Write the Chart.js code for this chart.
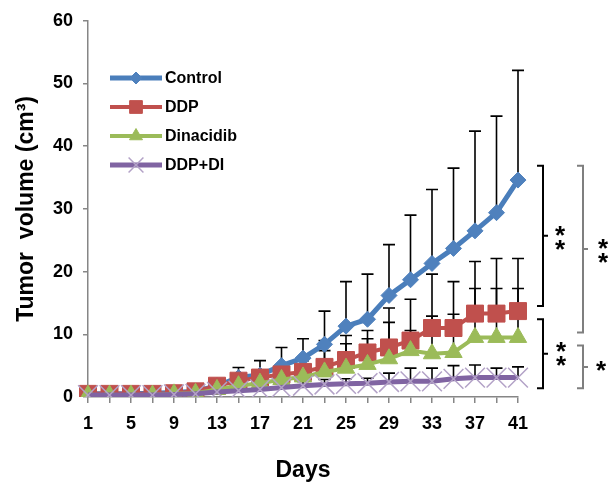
<!DOCTYPE html>
<html>
<head>
<meta charset="utf-8">
<script src="https://cdn.jsdelivr.net/npm/chart.js@4.4.0/dist/chart.umd.min.js"></script>
<style>
  html, body { margin: 0; padding: 0; background: #fff; }
  #wrap { width: 611px; height: 486px; }
</style>
</head>
<body>
<div id="wrap"><canvas id="myChart" width="611" height="486"></canvas></div>
<script>
// days of measurement
const days = ['1','3','5','7','9','11','13','15','17','19','21','23','25','27','29','31','33','35','37','39','41'];

// mean tumor volume per group
const control  = [0.5,0.5,0.5,0.6,0.7,0.9,1.8,3.1,3.5,5.0,6.2,8.4,11.3,12.4,16.2,18.7,21.3,23.7,26.5,29.4,34.6];
const ddp      = [0.5,0.5,0.5,0.5,0.6,0.9,1.8,2.6,3.1,3.6,4.0,4.8,5.9,7.1,7.9,9.0,11.0,11.0,13.3,13.3,13.7];
const dinacidib= [0.3,0.3,0.3,0.3,0.5,0.6,1.2,1.8,2.2,2.8,3.2,4.0,4.6,5.2,6.1,7.4,6.9,7.1,9.5,9.5,9.5];
const ddpDi    = [0.3,0.3,0.3,0.3,0.4,0.5,0.8,1.0,1.2,1.5,1.8,2.0,2.1,2.2,2.4,2.5,2.5,2.9,3.1,3.1,3.1];

// upper error bars (SD)
const controlErr = [0.2,0.2,0.2,0.3,0.3,0.4,0.8,1.6,2.3,2.9,3.1,5.3,7.1,7.2,8.1,10.3,11.8,12.8,15.9,15.4,17.5];
const ddpErr     = [0.2,0.2,0.2,0.2,0.3,0.4,0.6,0.9,1.2,1.5,1.8,4.2,3.9,3.5,6.3,6.6,8.6,7.4,8.3,8.8,8.4];
const dinacidibErr=[0.1,0.1,0.1,0.1,0.2,0.3,0.5,0.8,1.0,1.3,1.6,3.4,3.9,4.1,5.8,3.2,6.0,6.1,7.8,7.8,7.8];
const ddpDiErr   = [0.1,0.1,0.1,0.1,0.1,0.2,0.3,0.4,0.5,0.6,0.7,0.8,0.8,0.8,1.4,2.1,2.1,2.1,2.0,1.5,1.7];

const FONT = 'Arial, "Liberation Sans", sans-serif';
const axisGrey = '#868686';

// error bars drawn behind the lines
const errorBars = {
  id: 'errorBars',
  beforeDatasetsDraw(chart) {
    const ctx = chart.ctx;
    const xs = chart.scales.x, ys = chart.scales.y;
    ctx.save();
    ctx.strokeStyle = '#000';
    ctx.lineWidth = 1.6;
    chart.data.datasets.forEach(ds => {
      ds.err.forEach((e, i) => {
        const x = xs.getPixelForValue(i);
        const y0 = ys.getPixelForValue(ds.data[i]);
        const y1 = ys.getPixelForValue(ds.data[i] + e);
        ctx.beginPath();
        ctx.moveTo(x, y0); ctx.lineTo(x, y1);
        ctx.moveTo(x - 6, y1); ctx.lineTo(x + 6, y1);
        ctx.stroke();
      });
    });
    ctx.restore();
  }
};

// legend inside the plot, top left
const innerLegend = {
  id: 'innerLegend',
  afterDraw(chart) {
    const ctx = chart.ctx;
    const rows = [78, 107, 136, 165];
    ctx.save();
    chart.data.datasets.forEach((ds, i) => {
      const y = rows[i];
      ctx.strokeStyle = ds.borderColor;
      ctx.lineWidth = ds.borderWidth;
      ctx.beginPath();
      ctx.moveTo(110, y); ctx.lineTo(162, y);
      ctx.stroke();
      ctx.fillStyle = ds.pointBackgroundColor;
      ctx.strokeStyle = ds.pointBorderColor;
      ctx.lineWidth = ds.pointBorderWidth;
      Chart.helpers.drawPoint(ctx, {pointStyle: ds.pointStyle, radius: ds.pointRadius * 0.75, rotation: 0, borderWidth: ds.pointBorderWidth}, 136, y);
      ctx.fillStyle = '#000';
      ctx.font = 'bold 16px ' + FONT;
      ctx.textBaseline = 'middle';
      ctx.fillText(ds.label, 165, y + 1);
    });
    ctx.restore();
  }
};

// significance brackets on the right
const sigBrackets = {
  id: 'sigBrackets',
  afterDraw(chart) {
    const ctx = chart.ctx;
    const ys = chart.scales.y;
    const brackets = [
      {x: 543, from: 36.9, to: 14.5, color: '#000', stars: 2, tx: 560, dy: 0},
      {x: 583, from: 36.9, to: 10.3, color: '#7f7f7f', stars: 2, tx: 603, dy: 0},
      {x: 543, from: 12.4, to: 1.4, color: '#000', stars: 2, tx: 561, dy: -2},
      {x: 583, from: 8.2, to: 1.4, color: '#7f7f7f', stars: 1, tx: 601, dy: -3}
    ];
    const size = 26;
    ctx.save();
    brackets.forEach(b => {
      const y0 = ys.getPixelForValue(b.from);
      const y1 = ys.getPixelForValue(b.to);
      const ym = (y0 + y1) / 2;
      ctx.strokeStyle = b.color;
      ctx.lineWidth = 2;
      ctx.beginPath();
      ctx.moveTo(b.x - 6, y0); ctx.lineTo(b.x, y0); ctx.lineTo(b.x, y1); ctx.lineTo(b.x - 6, y1);
      ctx.moveTo(b.x, ym); ctx.lineTo(b.x + 5, ym);
      ctx.stroke();
      ctx.fillStyle = '#000';
      ctx.font = 'bold ' + size + 'px ' + FONT;
      ctx.textAlign = 'center';
      ctx.textBaseline = 'alphabetic';
      for (let k = 0; k < b.stars; k++) {
        const cy = ym + b.dy + (k - (b.stars - 1) / 2) * 14;
        ctx.fillText('*', b.tx, cy + size * 0.58);
      }
    });
    ctx.restore();
  }
};

const ctx = document.getElementById('myChart').getContext('2d');
const myChart = new Chart(ctx, {
  type: 'line',
  data: {
    labels: days,
    datasets: [
      {
        label: 'Control', data: control, err: controlErr, order: 4,
        borderColor: '#4A7EBB', borderWidth: 5,
        pointStyle: 'rectRot', pointRadius: 8,
        pointBackgroundColor: '#4F81BD', pointBorderColor: '#4F81BD', pointBorderWidth: 1
      },
      {
        label: 'DDP', data: ddp, err: ddpErr, order: 3,
        borderColor: '#C0504D', borderWidth: 4,
        pointStyle: 'rect', pointRadius: 12,
        pointBackgroundColor: '#C0504D', pointBorderColor: '#C0504D', pointBorderWidth: 1
      },
      {
        label: 'Dinacidib', data: dinacidib, err: dinacidibErr, order: 2,
        borderColor: '#9BBB59', borderWidth: 4,
        pointStyle: 'triangle', pointRadius: 10,
        pointBackgroundColor: '#9BBB59', pointBorderColor: '#9BBB59', pointBorderWidth: 1
      },
      {
        label: 'DDP+DI', data: ddpDi, err: ddpDiErr, order: 1,
        borderColor: '#8064A2', borderWidth: 5,
        pointStyle: 'crossRot', pointRadius: 14,
        pointBackgroundColor: '#B3A2C7', pointBorderColor: '#B3A2C7', pointBorderWidth: 1.5
      }
    ]
  },
  options: {
    responsive: false,
    animation: false,
    layout: { padding: { left: 0, right: 93, top: 16, bottom: 0 } },
    plugins: { legend: { display: false }, tooltip: { enabled: false } },
    elements: { line: { tension: 0 } },
    scales: {
      x: {
        type: 'category',
        offset: false,
        grid: { drawOnChartArea: false, drawTicks: true, tickLength: 6, color: axisGrey, lineWidth: 1.5 },
        border: { color: axisGrey, width: 1.5 },
        ticks: {
          autoSkip: false, maxRotation: 0, padding: 10, color: '#000',
          font: { family: FONT, size: 18, weight: 'bold' },
          callback: function (v, i) { return i % 2 === 0 ? this.getLabelForValue(v) : ''; }
        },
        title: { display: true, text: 'Days', color: '#000', font: { family: FONT, size: 23, weight: 'bold' }, padding: { top: 0, bottom: 2 } },
        afterFit(s) { s.height = 89; }
      },
      y: {
        min: 0, max: 60,
        grid: { drawOnChartArea: false, drawTicks: true, tickLength: 5, color: axisGrey, lineWidth: 1.5 },
        border: { color: axisGrey, width: 1.5 },
        ticks: { stepSize: 10, padding: 10, color: '#000', font: { family: FONT, size: 18, weight: 'bold' } },
        title: { display: true, text: 'Tumor  volume (cm³)', color: '#000', font: { family: FONT, size: 23, weight: 'bold' }, padding: { top: 13, bottom: 0 } },
        afterFit(s) { s.width = 88; }
      }
    }
  },
  plugins: [errorBars, innerLegend, sigBrackets]
});
</script>
</body>
</html>
